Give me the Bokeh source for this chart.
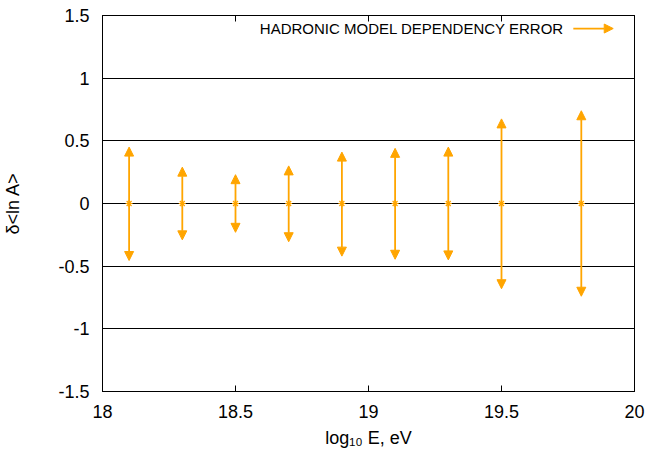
from bokeh.plotting import figure
from bokeh.models import (ColumnDataSource, Arrow, NormalHead, LinearAxis, FixedTicker,
                          CustomJSTickFormatter, Label, Range1d)
from bokeh.embed import file_html
from bokeh.resources import INLINE

# ---- data ----
log_e = [18.1, 18.3, 18.5, 18.7, 18.9, 19.1, 19.3, 19.5, 19.8]
err_up = [0.45, 0.29, 0.23, 0.30, 0.41, 0.44, 0.45, 0.675, 0.74]
err_down = [-0.455, -0.29, -0.23, -0.305, -0.42, -0.445, -0.45, -0.68, -0.74]
center = [0, 0, 0, 0, 0, 0, 0, 0, 0]
x_ticks = [18, 18.5, 19, 19.5, 20]
y_ticks = [-1.5, -1, -0.5, 0, 0.5, 1, 1.5]
legend_text = "HADRONIC MODEL DEPENDENCY ERROR"
legend_pos = [19.735, 1.396]
legend_arrow_x = [19.77, 19.92]

FONT = "Liberation Sans"
ORANGE = "#ffa500"

p = figure(width=647, height=454, output_backend="svg", toolbar_location=None,
           x_range=Range1d(18, 20), y_range=Range1d(-1.5, 1.5),
           min_border_left=98, min_border_right=13, min_border_top=15, min_border_bottom=63,
           x_axis_label="log\u2081\u2080 E, eV", y_axis_label="\u03b4<ln A>")
p.background_fill_color = "white"
p.border_fill_color = "white"
p.outline_line_color = "black"
p.outline_line_width = 1

fmt = CustomJSTickFormatter(code="return tick.toString();")
blank = CustomJSTickFormatter(code="return '';")

for ax in (p.xaxis[0], p.yaxis[0]):
    ax.major_tick_in = 6
    ax.major_tick_out = 0
    ax.minor_tick_in = 0
    ax.minor_tick_out = 0
    ax.axis_line_color = "black"
    ax.major_tick_line_color = "black"
    ax.major_label_text_font = FONT
    ax.major_label_text_font_size = "18px"
    ax.major_label_text_color = "black"
    ax.axis_label_text_font = FONT
    ax.axis_label_text_font_size = "18px"
    ax.axis_label_text_font_style = "normal"
    ax.axis_label_text_color = "black"
    ax.formatter = fmt

p.xaxis[0].ticker = FixedTicker(ticks=x_ticks)
p.yaxis[0].ticker = FixedTicker(ticks=y_ticks)
p.xaxis[0].major_label_standoff = 13
p.xaxis[0].axis_label_standoff = 7
p.yaxis[0].major_label_standoff = 13
p.yaxis[0].axis_label_standoff = 32

# mirrored ticks on top and right
top = LinearAxis(ticker=FixedTicker(ticks=x_ticks), formatter=blank, major_tick_in=6,
                 major_tick_out=0, minor_tick_in=0, minor_tick_out=0,
                 major_label_standoff=0, axis_line_color="black")
right = LinearAxis(ticker=FixedTicker(ticks=y_ticks), formatter=blank, major_tick_in=6,
                   major_tick_out=0, minor_tick_in=0, minor_tick_out=0,
                   major_label_standoff=0, axis_line_color="black")
p.add_layout(top, "above")
p.add_layout(right, "right")

p.xgrid.grid_line_color = None
p.ygrid.ticker = FixedTicker(ticks=y_ticks)
p.ygrid.grid_line_color = "black"
p.ygrid.grid_line_width = 1

src = ColumnDataSource(dict(x=log_e, up=err_up, down=err_down, c=center))

for col in ("up", "down"):
    p.add_layout(Arrow(end=NormalHead(size=9, fill_color=ORANGE, line_color=ORANGE, line_width=1),
                       x_start="x", y_start="c", x_end="x", y_end=col, source=src,
                       line_color=ORANGE, line_width=1.8))

p.scatter("x", "c", source=src, marker="asterisk", size=7, line_color=ORANGE, line_width=1.2)

# legend
p.add_layout(Label(x=legend_pos[0], y=legend_pos[1], text=legend_text, text_align="right",
                   text_baseline="middle", text_font=FONT, text_font_size="15px",
                   text_color="black"))
p.add_layout(Arrow(end=NormalHead(size=9, fill_color=ORANGE, line_color=ORANGE, line_width=1),
                   x_start=legend_arrow_x[0], y_start=legend_pos[1],
                   x_end=legend_arrow_x[1], y_end=legend_pos[1],
                   line_color=ORANGE, line_width=1.8))

open("out.html", "w").write(file_html(p, INLINE))
